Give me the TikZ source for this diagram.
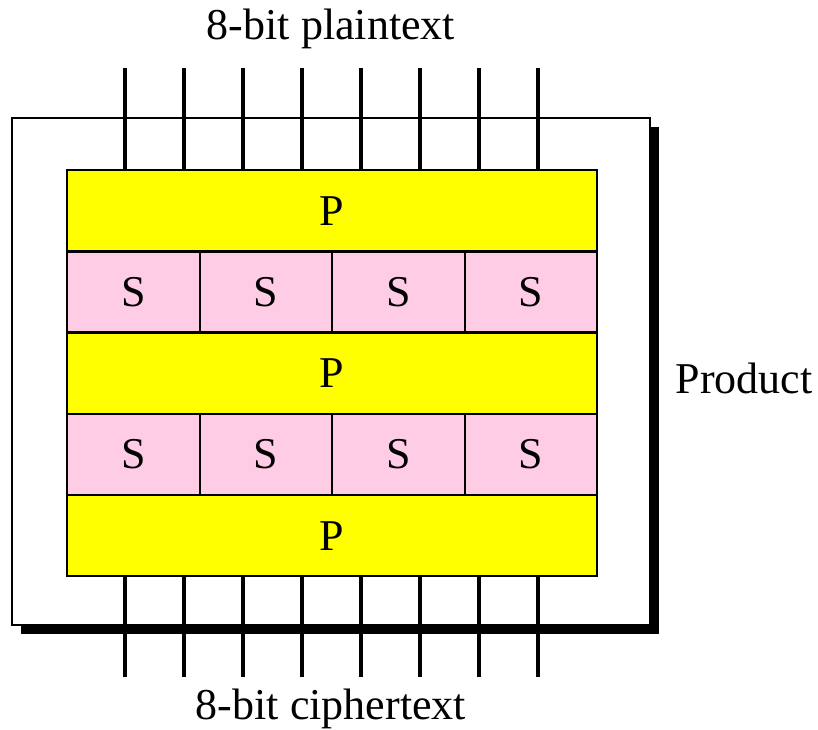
\documentclass[tikz,border=0pt]{standalone}
\usepackage{fontspec}
\setmainfont{Liberation Serif}
\definecolor{pbox}{RGB}{255,255,0}
\definecolor{sbox}{RGB}{255,204,230}
\begin{document}
\begin{tikzpicture}[x=0.5pt,y=-0.5pt,
  rowbox/.style={draw=black, line width=1.2pt, fill=pbox, inner sep=0pt,
    minimum width=265pt, minimum height=40.6pt, anchor=north west,
    font=\fontsize{22}{25}\selectfont},
  sbbox/.style={draw=black, line width=1.2pt, fill=sbox, inner sep=0pt,
    minimum width=66.25pt, minimum height=40.6pt, anchor=north west,
    font=\fontsize{22}{25}\selectfont},
  wire/.style={line width=1.6pt},
  lbl/.style={font=\fontsize{22}{25}\selectfont, inner sep=0pt}]
\useasboundingbox (0,0) rectangle (818,729);

% product frame with drop shadow
\fill[black] (21,127) rectangle (659,634);
\draw[line width=1.2pt, fill=white] (12,118) rectangle (650,625);

% P layers
\node[rowbox] (p1) at (66,169) {P};
\node[rowbox] (p2) at (66,331.4) {P};
\node[rowbox] (p3) at (66,493.8) {P};

% S layers
\foreach \c in {0,1,2,3} {
  \node[sbbox] (sa\c) at (66+132.5*\c,250.2) {S};
  \node[sbbox] (sb\c) at (66+132.5*\c,412.6) {S};
}

% input and output bit lines
\foreach \i in {0,...,7} {
  \coordinate (in\i) at (125+59*\i,68);
  \coordinate (out\i) at (125+59*\i,677);
  \draw[wire] (in\i) -- (in\i |- p1.north);
  \draw[wire] (out\i) -- (out\i |- p3.south);
}

% labels
\node[lbl] (plain) at (331,29) {8-bit plaintext};
\node[lbl] (cipher) at (331,709) {8-bit ciphertext};
\node[lbl] (prod) at (744,378) {Product};
\end{tikzpicture}
\end{document}
